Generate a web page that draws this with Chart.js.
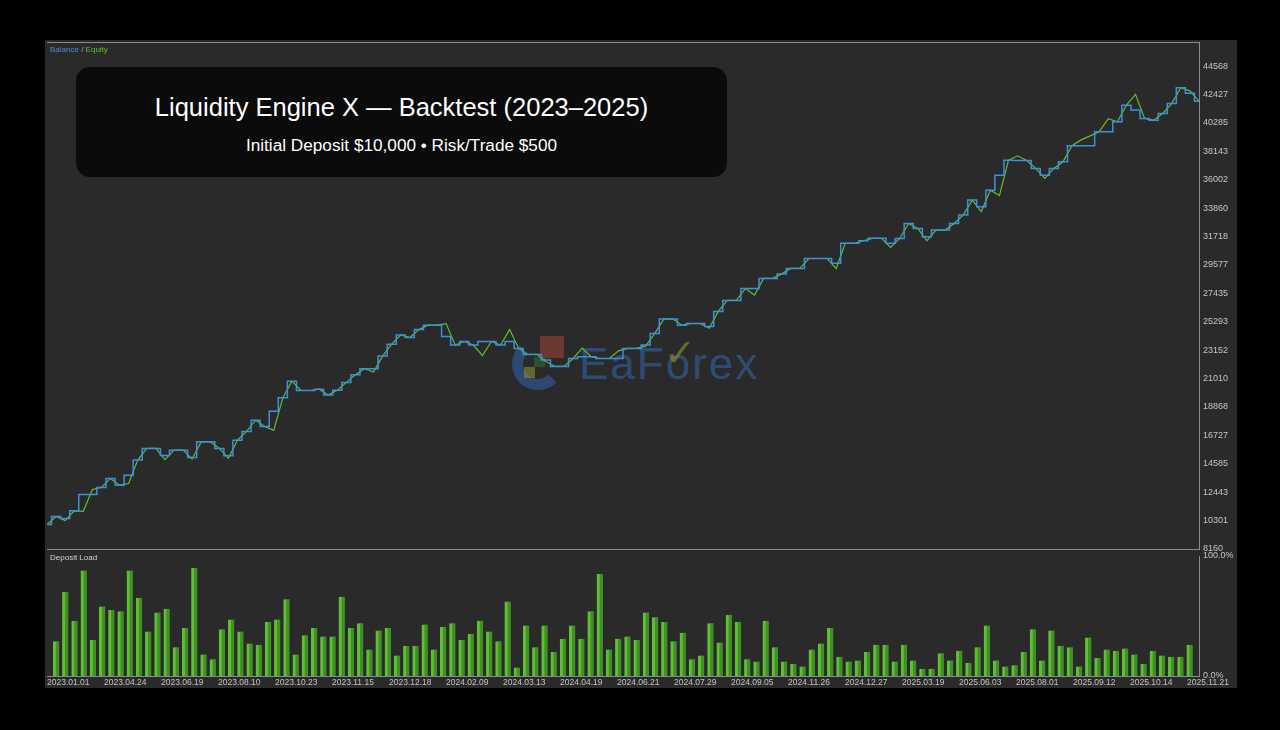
<!DOCTYPE html>
<html>
<head>
<meta charset="utf-8">
<script src="https://cdn.jsdelivr.net/npm/chart.js@4.4.0/dist/chart.umd.min.js"></script>
<style>
  html, body { margin: 0; padding: 0; background: #000; width: 1280px; height: 730px; overflow: hidden; }
  body { font-family: "Liberation Sans", Arial, sans-serif; }
  #panel { position: absolute; left: 45px; top: 40px; width: 1192px; height: 648px; background: #2a2a2a; }
  #panel canvas { position: absolute; left: 0; }
  #equityChart { top: 0; z-index: 2; }
  #loadChart { top: 511px; z-index: 2; }
  .legend { position: absolute; left: 5px; top: 5px; font-size: 8px; z-index: 3; color: #aaa; }
  .sublabel { position: absolute; left: 5px; top: 513px; font-size: 8px; color: #d2d2d2; z-index: 3; }
  .titlebox { position: absolute; left: 31px; top: 27px; width: 651px; height: 110px; background: #0b0b0b; border-radius: 14px; z-index: 4; color: #fff; text-align: center; }
  .titlebox .t1 { position: absolute; left: 0; right: 0; top: 25px; font-size: 25.5px; line-height: 30px; }
  .titlebox .t2 { position: absolute; left: 0; right: 0; top: 67px; font-size: 17.2px; line-height: 22px; }
  .wm { position: absolute; z-index: 1; }
</style>
</head>
<body>
<div id="panel">
  <!-- watermark sits under the lines -->
  <div class="wm" style="left:467px;top:298px;width:30px;height:30px;border:11px solid rgba(50,110,200,0.45);border-radius:50%;border-top-color:transparent;border-right-color:transparent;"></div>
  <div class="wm" style="left:495px;top:296px;width:24px;height:22px;background:rgba(185,75,60,0.45);"></div>
  <div class="wm" style="left:489px;top:317px;width:11px;height:10px;background:rgba(55,105,50,0.6);"></div>
  <div class="wm" style="left:479px;top:327px;width:11px;height:11px;background:rgba(150,150,40,0.55);"></div>
  <div class="wm" style="left:534px;top:302px;font-size:44px;line-height:44px;letter-spacing:2px;color:rgba(55,105,180,0.55);">EaForex</div>
  <div class="wm" style="left:619px;top:293px;font-family:'DejaVu Sans';font-size:38px;line-height:40px;color:rgba(150,150,45,0.6);">✓</div>

  <canvas id="equityChart" width="1192" height="511"></canvas>
  <canvas id="loadChart" width="1192" height="137"></canvas>

  <div class="legend"><span style="color:#3d8fe0">Balance</span> / <span style="color:#5fbf2b">Equity</span></div>
  <div class="sublabel">Deposit Load</div>

  <div class="titlebox">
    <div class="t1">Liquidity Engine X — Backtest (2023–2025)</div>
    <div class="t2">Initial Deposit $10,000 • Risk/Trade $500</div>
  </div>
</div>

<script>
// balance after each closed trade
const balance = [
  10000, 10610, 10450, 11040, 12270, 12270, 12800, 13480, 12970, 13720,
  14860, 15740, 15740, 15210, 15610, 15610, 15060, 16240, 16240, 15740,
  15190, 16360, 17020, 17870, 17400, 18550, 19560, 20810, 20110, 20110,
  20210, 19760, 20130, 20720, 21300, 21750, 21750, 22700, 23600, 24300,
  24100, 24700, 25030, 25030, 24180, 23530, 23800, 23530, 23800, 23800,
  23530, 23800, 23280, 22830, 22830, 22400, 21920, 21920, 22520, 22650,
  22650, 22520, 22520, 22520, 23280, 23280, 23530, 24410, 25490, 25490,
  25030, 25160, 25160, 24930, 26070, 26900, 26900, 27800, 27800, 28560,
  28560, 28900, 29310, 29310, 30060, 30060, 30060, 29700, 31200, 31200,
  31400, 31580, 31580, 31200, 31570, 32700, 32330, 31700, 32200, 32200,
  32700, 33330, 34460, 33960, 35210, 36340, 37470, 37450, 37450, 36850,
  36340, 36850, 37350, 38560, 38560, 38560, 39620, 39620, 40370, 41620,
  41250, 40620, 40490, 40990, 41750, 42930, 42510, 41920
];

// equity, with the floating spikes
const equity = [
  10000, 10610, 10300, 11040, 11000, 12650, 12800, 13480, 12970, 13100,
  14860, 15740, 15740, 14900, 15610, 15610, 14950, 16240, 16240, 15740,
  15000, 16360, 17020, 17870, 17400, 17100, 19560, 20810, 20110, 20110,
  20210, 19760, 20130, 20720, 21300, 21750, 21500, 22700, 23600, 24300,
  24100, 24700, 25030, 25030, 25150, 23530, 23800, 23530, 22750, 23800,
  23530, 24700, 23280, 22830, 22830, 22300, 21920, 21920, 22520, 23300,
  22650, 22520, 22520, 23100, 23280, 23280, 23450, 24410, 25490, 25490,
  25030, 25160, 25160, 24800, 26070, 26900, 26900, 27800, 27300, 28560,
  28560, 28900, 29310, 29310, 30060, 30060, 30060, 29300, 31200, 31200,
  31400, 31580, 31580, 30900, 31570, 32700, 32330, 31400, 32200, 32200,
  32700, 33330, 34460, 33600, 35210, 34800, 37470, 37800, 37450, 36850,
  36100, 36850, 37350, 38560, 39000, 39300, 39620, 40600, 40370, 41620,
  42430, 40620, 40490, 40990, 41750, 42930, 42700, 41920
];

// deposit load per trade, %
const depositLoad = [
  29, 70, 46, 88, 30, 58, 55, 54, 88, 65, 37, 53, 56, 24, 40, 90, 18, 14, 39, 47,
  37, 27, 26, 45, 47, 64, 18, 34, 40, 33, 33, 66, 40, 44, 22, 38, 40, 17, 25, 25,
  43, 22, 41, 44, 30, 35, 46, 37, 29, 62, 7, 42, 24, 42, 20, 31, 42, 31, 54, 85,
  22, 31, 33, 30, 53, 49, 45, 29, 36, 14, 17, 44, 28, 51, 45, 14, 12, 46, 24, 12,
  10, 8, 22, 27, 40, 16, 12, 13, 20, 26, 26, 12, 26, 13, 6, 6, 19, 13, 21, 11,
  24, 42, 13, 8, 9, 20, 39, 13, 38, 25, 24, 8, 32, 15, 22, 21, 23, 18, 10, 21,
  17, 16, 16, 26
];

const yTicks = [8160, 10301, 12443, 14585, 16727, 18868, 21010, 23152, 25293, 27435,
  29577, 31718, 33860, 36002, 38143, 40285, 42427, 44568];

const dateLabels = ['2023.01.01', '2023.04.24', '2023.06.19', '2023.08.10', '2023.10.23',
  '2023.11.15', '2023.12.18', '2024.02.09', '2024.03.13', '2024.04.19', '2024.06.21',
  '2024.07.29', '2024.09.05', '2024.11.26', '2024.12.27', '2025.03.19', '2025.06.03',
  '2025.08.01', '2025.09.12', '2025.10.14', '2025.11.21'];

const labelStep = 6.185; // trades between date labels
const axisColor = '#c4c4c4';
const frameColor = '#8a8a8a';

// gray frame lines round the plot, like the terminal
const framePlugin = {
  id: 'frame',
  afterDraw(chart, args, opts) {
    const { ctx, chartArea: a } = chart;
    ctx.save();
    ctx.strokeStyle = frameColor;
    ctx.lineWidth = 1;
    ctx.beginPath();
    if (opts.top) {
      ctx.moveTo(a.left, a.top + 0.5);
      ctx.lineTo(a.right, a.top + 0.5);
    }
    ctx.moveTo(a.right + 0.5, a.top);
    ctx.lineTo(a.right + 0.5, a.bottom + 1);
    ctx.moveTo(a.left, a.bottom + 0.5);
    ctx.lineTo(a.right, a.bottom + 0.5);
    ctx.stroke();
    ctx.restore();
  }
};

// fixed axis box, no extra room for half labels
const fixedRight = s => {
  s.width = 38;
  s.paddingTop = 0;
  s.paddingBottom = 0;
};

Chart.defaults.font.family = '"Liberation Sans", Arial, sans-serif';

new Chart(document.getElementById('equityChart'), {
  type: 'line',
  data: {
    datasets: [
      {
        label: 'Balance',
        data: balance.map((v, i) => ({ x: i, y: v })),
        borderColor: '#3d8fe0',
        borderWidth: 1.5,
        stepped: 'middle',
        pointRadius: 0,
      },
      {
        label: 'Equity',
        data: equity.map((v, i) => ({ x: i, y: v })),
        borderColor: '#5fbf2b',
        borderWidth: 1.2,
        pointRadius: 0,
        tension: 0,
      },
    ],
  },
  options: {
    responsive: false,
    animation: false,
    layout: { padding: { left: 2, top: 2, bottom: 2, right: 0 } },
    plugins: { legend: { display: false }, tooltip: { enabled: false }, frame: { top: true } },
    scales: {
      x: { type: 'linear', display: false, min: 0, max: balance.length - 1 },
      y: {
        position: 'right',
        min: 8160,
        max: 46380,
        afterBuildTicks: s => { s.ticks = yTicks.map(v => ({ value: v })); },
        afterFit: fixedRight,
        grid: { display: false, drawTicks: false },
        border: { display: false },
        ticks: { color: axisColor, font: { size: 9 }, padding: 4, callback: v => String(v) },
      },
    },
  },
  plugins: [framePlugin],
});

new Chart(document.getElementById('loadChart'), {
  type: 'bar',
  data: {
    datasets: [{
      label: 'Deposit Load',
      data: depositLoad.map((v, i) => ({ x: i, y: v })),
      backgroundColor: '#3f9124',
      borderColor: '#62bd38',
      borderWidth: { left: 3, right: 0, top: 0, bottom: 0 },
      barThickness: 6,
    }],
  },
  options: {
    responsive: false,
    animation: false,
    layout: { padding: { left: 2, top: 5, bottom: 0, right: 0 } },
    plugins: { legend: { display: false }, tooltip: { enabled: false }, frame: { top: false } },
    scales: {
      x: {
        type: 'linear',
        min: -1,
        max: depositLoad.length,
        offset: false,
        afterBuildTicks: s => { s.ticks = dateLabels.map((d, k) => ({ value: -1 + k * labelStep })); },
        afterFit: s => { s.height = 12; s.paddingLeft = 0; s.paddingRight = 0; },
        grid: { display: false, drawTicks: false, offset: false },
        border: { display: false },
        ticks: {
          autoSkip: false, maxRotation: 0, align: 'start', padding: 2,
          color: axisColor, font: { size: 8.5 },
          callback: (v, idx) => dateLabels[idx],
        },
      },
      y: {
        position: 'right',
        min: 0,
        max: 100,
        afterBuildTicks: s => { s.ticks = [{ value: 0 }, { value: 100 }]; },
        afterFit: fixedRight,
        grid: { display: false, drawTicks: false },
        border: { display: false },
        ticks: { color: axisColor, font: { size: 9 }, padding: 4, callback: v => v.toFixed(1) + '%' },
      },
    },
  },
  plugins: [framePlugin],
});
</script>
</body>
</html>
